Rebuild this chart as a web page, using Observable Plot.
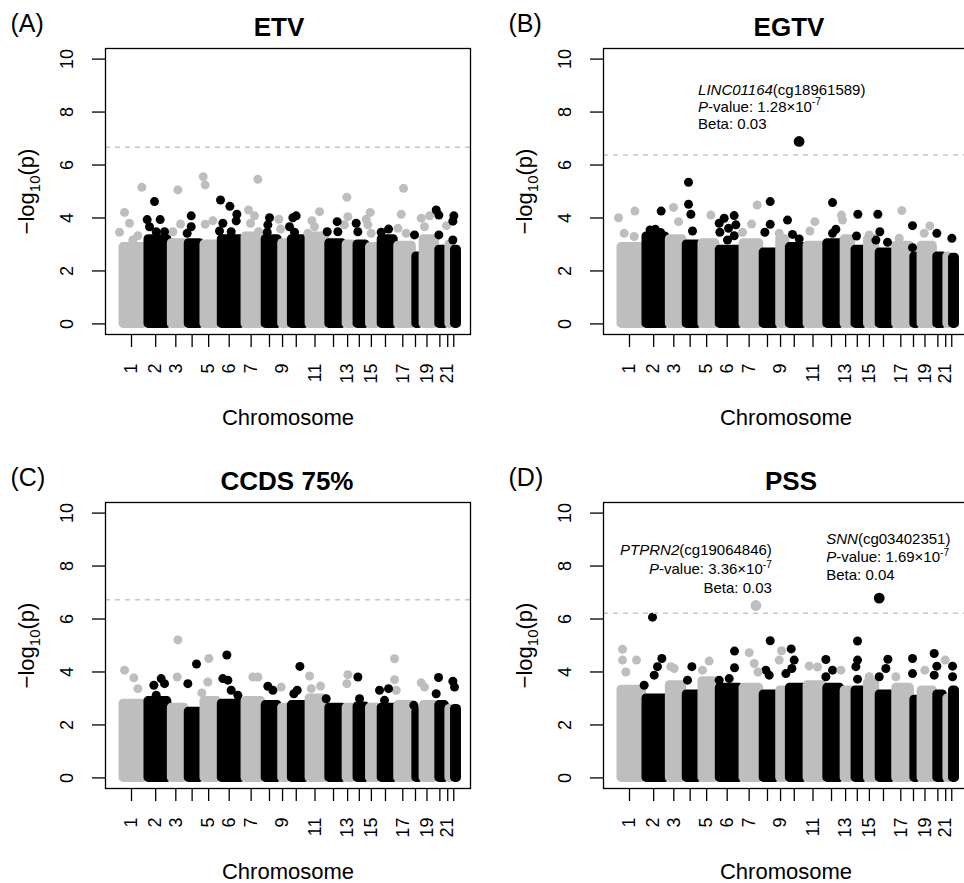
<!DOCTYPE html>
<html>
<head>
<meta charset="utf-8">
<script src="https://cdn.jsdelivr.net/npm/d3@7"></script>
<script src="https://cdn.jsdelivr.net/npm/@observablehq/plot@0.6"></script>
<style>
html, body { margin:0; padding:0; overflow:hidden; background:#fff; }
#wrap { position:relative; width:964px; height:883px; overflow:hidden; background:#fff; }
.panel { position:absolute; width:498px; height:454px; }
.panel svg { display:block; overflow:visible; }
</style>
</head>
<body>
<div id="wrap"></div>
<script>
// ---------- shared data ----------
const chromosomes = [1,2,3,4,5,6,7,8,9,10,11,12,13,14,15,16,17,18,19,20,21,22];
// approximate number of CpG probes per chromosome (thousands), read from band widths
const chromSizes = [62,58,42,39,43,59,50,41,24,44,49,43,27,31,29,41,45,18,39,25,14,16];
const chromLabels = ["1","2","3","","5","6","7","","9","","11","","13","","15","","17","","19","","21",""];
const yTicks = [0,2,4,6,8,10];

const titles = ["ETV","EGTV","CCDS 75%","PSS"];
const letters = ["(A)","(B)","(C)","(D)"];
const thresholds = [6.67, 6.38, 6.73, 6.22];

// top of the dense point mass per chromosome (-log10 p)
const bandETV  = [2.9,3.2,3.05,3.05,3.0,3.2,3.3,3.2,3.05,3.2,3.3,3.05,3.0,3.0,2.9,3.2,2.95,2.55,3.2,2.8,3.0,2.8];
const bandEGTV = [2.9,3.3,3.2,3.0,3.05,2.8,3.05,2.7,3.2,2.9,2.95,3.05,3.2,2.8,3.2,2.7,2.95,2.55,2.95,2.55,2.55,2.5];
const bandCCDS = [2.8,2.9,2.65,2.5,2.9,2.8,2.9,2.75,2.65,2.75,3.0,2.65,2.65,2.7,2.65,2.65,2.75,2.5,2.75,2.75,2.6,2.6];
const bandPSS  = [3.33,3.0,3.5,3.15,3.65,3.4,3.4,3.15,3.3,3.4,3.5,3.4,3.3,3.3,3.6,3.15,3.4,2.95,3.3,3.15,3.0,3.3];

// individual points above the mass: [chromosome, cumulative position (k probes), -log10 p]
const pointsETV = [
 [1,13.7,4.21],[1,56.7,5.16],[1,26.1,3.80],[1,1.2,3.46],[1,46.8,3.33],[1,34.3,3.17],
 [3,146.1,5.06],[3,152.7,3.77],[3,133.6,3.48],
 [5,209,5.56],[5,213.9,5.25],[5,233,3.90],[5,213.9,3.76],
 [7,344.7,5.46],[7,321.5,4.30],[7,336.4,4.08],[7,326.5,3.80],[7,346.3,3.48],
 [9,396.8,3.95],[9,401,3.58],
 [11,478.8,3.90],[11,497.8,4.24],[11,485.3,3.67],[11,468.8,3.42],
 [13,565.6,4.78],[13,568.1,4.05],[13,559.8,3.74],
 [15,623.6,4.21],[15,613.7,3.95],[15,617.8,3.74],[15,626,3.42],
 [17,706.3,5.12],[17,700.5,4.14],[17,692.2,3.61],[17,712.9,3.42],
 [19,750.2,3.99],[19,770.9,4.08],[19,758.4,3.67],
 [21,813,3.71],
 [2,88.1,4.62],[2,69.9,3.94],[2,102.2,3.94],[2,113,3.48],[2,75.7,3.67],[2,92.3,3.48],
 [4,179.2,4.08],[4,179.2,3.67],[4,169.2,3.42],
 [6,252,4.68],[6,275.2,4.44],[6,292.6,4.14],[6,290.9,3.89],[6,257.8,3.80],[6,278.5,3.48],[6,249.5,3.51],
 [8,373.6,4.01],[8,369.5,3.74],[8,367.9,3.46],
 [10,439.8,4.08],[10,431.6,4.01],[10,423.3,3.67],[10,435.7,3.46],
 [12,541.6,3.86],[12,516.8,3.48],[12,543.3,3.48],
 [14,588.8,3.80],[14,592.9,3.48],
 [16,669.1,3.58],[16,650.9,3.46],
 [18,733.6,3.36],
 [20,787.4,4.30],[20,794,4.11],[20,794,3.36],
 [22,831.3,4.08],[22,828.8,3.88],[22,828.8,3.17]
];
const pointsEGTV = [
 [4,177.5,5.35],[4,177.5,4.52],[4,183.3,4.14],[4,187.4,3.51],
 [2,109.6,4.26],[2,82,3.55],[2,95,3.57],[2,108,3.45],
 [6,266,3.99],[6,290.9,4.09],[6,253.6,3.80],[6,295,3.74],[6,276.8,3.61],[6,255.3,3.46],[6,290.9,3.33],[6,274.3,3.17],
 [8,380.3,4.62],[8,380.3,3.76],[8,367,3.46],
 [10,423.3,3.92],[10,435.7,3.38],[10,452.2,3.21],
 [12,535,4.58],[12,543.3,3.57],[12,535,3.42],
 [14,597.9,4.14],[14,594.6,3.32],
 [16,647.5,4.14],[16,652.5,3.48],[16,671.5,3.08],[16,642.6,3.17],
 [18,733.6,3.71],[18,733.6,2.88],
 [20,794,3.42],
 [22,831.3,3.23],
 [1,3.7,4.01],[1,44.3,4.26],[1,17.8,3.42],[1,42.6,3.30],
 [3,140.3,4.40],[3,152.7,3.86],
 [5,233,4.11],
 [7,334,3.77],[7,348,4.49],[7,311.6,3.46],
 [9,402.6,3.42],
 [11,491.1,3.86],[11,478.8,3.51],
 [13,557.3,4.11],[13,559.8,3.92],
 [15,626,3.36],
 [17,707.1,4.28],[17,700.5,3.23],
 [19,776.6,3.70],[19,762.6,3.42]
];
const pointsCCDS = [
 [1,13.7,4.07],[1,36.8,3.78],[1,46.8,3.37],
 [3,146.1,5.21],[3,144.4,3.81],
 [5,223,4.51],[5,220.5,3.62],[5,205.6,3.21],
 [7,332.3,3.81],[7,344.7,3.81],
 [9,402.6,3.43],
 [11,473,3.85],[11,500.3,3.47],[11,477.2,3.37],
 [13,568.1,3.90],[13,565.6,3.56],
 [17,684,4.50],[17,684,3.71],[17,688.1,3.31],
 [19,750.2,3.59],[19,758.4,3.43],
 [2,86.5,3.50],[2,104.7,3.75],[2,113,3.56],[2,92.3,3.12],
 [4,170.9,3.56],[4,192.4,4.30],
 [6,267.7,4.64],[6,257.8,3.75],[6,270.2,3.69],[6,295,3.12],[6,278.5,3.31],
 [8,369.5,3.46],[8,381.9,3.31],
 [10,449,4.21],[10,442.3,3.31],[10,434.1,3.18],
 [12,514.3,2.99],
 [14,593,3.81],[14,597.1,2.99],
 [16,669.1,3.37],[16,646.7,3.31],[16,659.1,2.93],
 [18,731.9,2.74],
 [20,793.2,3.79],[20,787.4,3.18],
 [22,828.8,3.65],[22,832.9,3.43]
];
const pointsPSS = [
 [2,88.1,6.07],
 [2,111.3,4.51],[2,100.5,4.20],[2,92.3,3.88],[2,67.4,3.50],
 [4,185.8,4.20],[4,175,3.69],
 [6,291.7,4.79],[6,291.7,4.16],[6,278.5,3.75],[6,253.6,3.69],
 [8,380.3,5.18],[8,369.5,4.07],[8,377.8,3.88],
 [10,432.4,4.87],[10,439.8,4.45],[10,434,4.13],[10,419.2,3.94],
 [12,518.5,4.47],[12,535,4.07],[12,518.5,3.82],
 [14,597.1,5.17],[14,597.1,4.45],[14,593,4.20],[14,597.1,3.73],
 [16,672.4,4.48],[16,667.4,4.13],[16,650.9,3.82],
 [18,733.6,4.51],[18,733.6,3.94],
 [20,787.4,4.70],[20,794,4.22],[20,787.4,3.88],
 [22,833,4.22],[22,833,3.82],
 [1,13.7,4.86],[1,13.7,4.45],[1,48.4,4.45],[1,21.9,4.0],
 [3,133.6,4.20],[3,141.9,4.13],
 [5,228.8,4.41],[5,212.3,4.07],
 [7,328.1,4.73],[7,340.5,4.32],[7,350,4.0],
 [9,408.4,4.80],[9,402.6,4.45],
 [11,497.8,4.19],[11,477.1,4.23],
 [13,556,4.07],
 [15,626,3.82],
 [17,692.2,3.82],
 [19,764.2,4.07],
 [21,814.7,4.45]
];

// annotated top hits
const hitsEGTV = [
 {chr:10, pos:452, p:6.89, gene:"LINC01164", probe:"cg18961589", pval:"1.28", exp:"-7", beta:"0.03"}
];
const hitsPSS = [
 {chr:7, pos:344.7, p:6.51, gene:"PTPRN2", probe:"cg19064846", pval:"3.36", exp:"-7", beta:"0.03"},
 {chr:16, pos:650.9, p:6.79, gene:"SNN", probe:"cg03402351", pval:"1.69", exp:"-7", beta:"0.04"}
];

// ---------- layout / style ----------
const GRAY = "#bebebe", BLACK = "#000000";
const FONT = "'Liberation Sans', Arial, Helvetica, sans-serif";
const NS = "http://www.w3.org/2000/svg";
const annoStyleEGTV = [{anchor:"start", dx:-101, dy:-12.7, gap:17}];
const annoStylePSS = [{anchor:"end", dx:16, dy:-12.7, gap:19}, {anchor:"start", dx:-53, dy:-18.3, gap:18}];

const total = d3.sum(chromSizes);
const starts = [];
chromSizes.reduce((acc, s, i) => { starts[i] = acc; return acc + s; }, 0);
const mids = chromSizes.map((s, i) => starts[i] + s / 2);
const labelByMid = new Map(mids.map((m, i) => [m, chromLabels[i]]));
const pad = 0.04 * total;
const colorOf = chr => (chr % 2 ? GRAY : BLACK);

const rich = new Map();
const yLabel = "\u2212log10(p)";
rich.set(yLabel, {size: 22, segs: [{t:"\u2212log"}, {t:"10", sub:1}, {t:"(p)"}]});

function annoLines(h) {
  const l0 = h.gene + "(" + h.probe + ")";
  const l1 = "P-value: " + h.pval + "\u00d710" + h.exp;
  const l2 = "Beta: " + h.beta;
  rich.set(l0, {size: 15, segs: [{t:h.gene, it:1}, {t:"(" + h.probe + ")"}]});
  rich.set(l1, {size: 15, segs: [{t:"P", it:1}, {t:"-value: " + h.pval + "\u00d710"}, {t:h.exp, sup:1}]});
  return [l0, l1, l2];
}

function richify(svg) {
  for (const el of svg.querySelectorAll("text")) {
    const spec = rich.get(el.textContent);
    if (!spec) continue;
    const fs = spec.size;
    el.textContent = "";
    let cur = 0;
    for (const s of spec.segs) {
      const ts = document.createElementNS(NS, "tspan");
      const want = s.sub ? 0.3 * fs : s.sup ? -0.42 * fs : 0;
      if (want !== cur) { ts.setAttribute("dy", (want - cur).toFixed(2)); cur = want; }
      if (s.it) ts.setAttribute("font-style", "italic");
      if (s.sub || s.sup) ts.setAttribute("font-size", (0.68 * fs).toFixed(1));
      ts.textContent = s.t;
      el.appendChild(ts);
    }
  }
}

const panels = [
  {title: titles[0], letter: letters[0], threshold: thresholds[0], band: bandETV,  points: pointsETV,  hits: [],       anno: [],            titleShift: -9, left: 0,   top: 0},
  {title: titles[1], letter: letters[1], threshold: thresholds[1], band: bandEGTV, points: pointsEGTV, hits: hitsEGTV, anno: annoStyleEGTV, titleShift: 3,  left: 498, top: 0},
  {title: titles[2], letter: letters[2], threshold: thresholds[2], band: bandCCDS, points: pointsCCDS, hits: [],       anno: [],            titleShift: -1, left: 0,   top: 454},
  {title: titles[3], letter: letters[3], threshold: thresholds[3], band: bandPSS,  points: pointsPSS,  hits: hitsPSS,  anno: annoStylePSS,  titleShift: 5,  left: 498, top: 454}
];

const wrap = document.getElementById("wrap");

for (const cfg of panels) {
  const bands = chromosomes.map((c, i) => ({chr: c, x1: starts[i], x2: starts[i] + chromSizes[i], top: cfg.band[i]}));
  const pts = cfg.points.map(([chr, pos, p]) => ({chr, pos, p}));

  const annoMarks = [];
  cfg.hits.forEach((h, j) => {
    const st = cfg.anno[j];
    const lines = annoLines(h);
    lines.forEach((line, k) => {
      annoMarks.push(Plot.text([h], {
        x: "pos", y: "p", text: () => line,
        dx: st.dx, dy: st.dy - (2 - k) * st.gap,
        textAnchor: st.anchor, lineAnchor: "bottom", fontSize: 15, fill: "#000"
      }));
    });
  });

  const svg = Plot.plot({
    width: 498, height: 454,
    marginLeft: 105, marginRight: 28, marginTop: 48, marginBottom: 120,
    style: {fontFamily: FONT, fontSize: "18px", background: "#fff", color: "#000", overflow: "visible"},
    x: {domain: [-pad, total + pad]},
    y: {domain: [-0.4, 10.4]},
    marks: [
      Plot.rect(bands, {x1: "x1", x2: "x2", y1: 0, y2: "top",
        fill: d => colorOf(d.chr), stroke: d => colorOf(d.chr),
        strokeWidth: 9, strokeLinejoin: "round", insetLeft: 4.5}),
      Plot.dot(pts, {x: "pos", y: "p", r: 4.5, fill: d => colorOf(d.chr), stroke: null}),
      Plot.dot(cfg.hits, {x: "pos", y: "p", r: 5.4, fill: d => colorOf(d.chr), stroke: null}),
      Plot.ruleY([cfg.threshold], {stroke: "#c6c6c6", strokeWidth: 1.4, strokeDasharray: "5,5"}),
      Plot.frame({stroke: "#000", strokeWidth: 1.3}),
      Plot.axisY({ticks: yTicks, tickFormat: d => String(d), tickSize: 13, tickPadding: 20,
        tickRotate: -90, fontSize: 18, strokeWidth: 1.3, label: null}),
      Plot.axisX({ticks: mids, tickFormat: d => labelByMid.get(d) ?? "", tickSize: 13, tickPadding: 16,
        tickRotate: -90, fontSize: 18, strokeWidth: 1.3, label: null}),
      Plot.text([cfg.title], {frameAnchor: "top", text: d => d, dx: cfg.titleShift, dy: -13,
        lineAnchor: "bottom", fontSize: 26, fontWeight: "bold"}),
      Plot.text([cfg.letter], {frameAnchor: "top-left", text: d => d, dx: -95, dy: -17,
        textAnchor: "start", lineAnchor: "bottom", fontSize: 25}),
      Plot.text(["Chromosome"], {frameAnchor: "bottom", text: d => d, dy: 90,
        lineAnchor: "bottom", fontSize: 22}),
      Plot.text([yLabel], {frameAnchor: "left", text: d => d, dx: -72, rotate: -90,
        textAnchor: "middle", lineAnchor: "bottom", fontSize: 22}),
      ...annoMarks
    ]
  });
  richify(svg);
  const div = document.createElement("div");
  div.className = "panel";
  div.style.left = cfg.left + "px";
  div.style.top = cfg.top + "px";
  div.appendChild(svg);
  wrap.appendChild(div);
}
</script>
</body>
</html>
